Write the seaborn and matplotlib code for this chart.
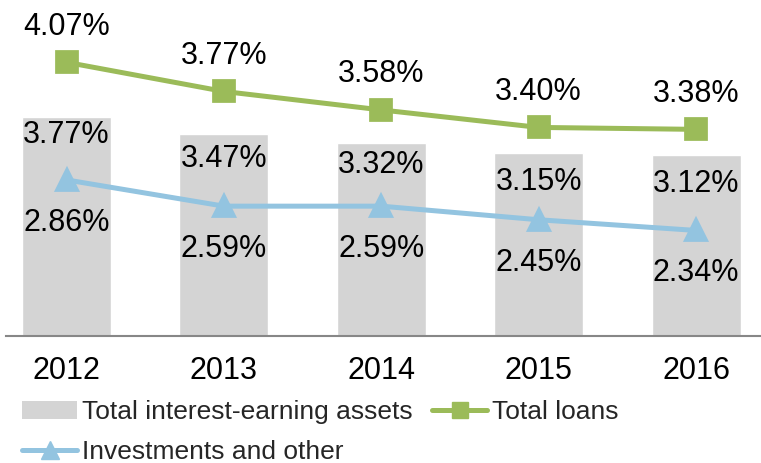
import numpy as np
import pandas as pd
import matplotlib
matplotlib.use("Agg")
import matplotlib.pyplot as plt
from matplotlib.patches import Patch
from matplotlib.lines import Line2D
import seaborn as sns

# --- data ---
years = ["2012", "2013", "2014", "2015", "2016"]
total_assets = [3.77, 3.47, 3.32, 3.15, 3.12]
total_loans = [4.07, 3.77, 3.58, 3.40, 3.38]
investments = [2.86, 2.59, 2.59, 2.45, 2.34]

series_names = ["Total interest-earning assets", "Total loans", "Investments and other"]

# --- styling ---
GREY = "#D4D4D4"
GREEN = "#9BBB59"
BLUE = "#93C4E0"
PX = 72 / 100  # pixels -> points at dpi 100
LABEL_SIZE = 22

sns.set_theme(style="white")
plt.rcParams["font.family"] = ["Liberation Sans", "DejaVu Sans"]

fig = plt.figure(figsize=(7.61, 4.63), dpi=100)
W, H = 761, 463
base_px = 335.5
ax = fig.add_axes([6 / W, 1 - base_px / H, 755 / W, base_px / H])
ax2 = ax.twinx()

sns.barplot(x=years, y=total_assets, color=GREY, saturation=1, width=0.565, ax=ax)

lines_df = pd.DataFrame({
    "year": years * 2,
    "value": total_loans + investments,
    "series": [series_names[1]] * len(years) + [series_names[2]] * len(years),
})
sns.pointplot(data=lines_df, x="year", y="value", hue="series",
              hue_order=[series_names[1], series_names[2]],
              palette=[GREEN, BLUE], markers=["s", "^"], linestyles=["-", "-"],
              markersize=14, linewidth=3.6, errorbar=None, legend=False, ax=ax2)

# scales: primary 58 px per unit from zero, secondary 97.2 px per unit
ax.set_ylim(0, base_px / 58.0)
y2_low = 4.07 - (base_px - 62.3) / 97.2
ax2.set_ylim(y2_low, y2_low + base_px / 97.2)
x_left = -(66.5 - 6) / 157.4
ax.set_xlim(x_left, x_left + 755 / 157.4)

# value labels
txt = dict(ha="center", va="baseline", fontsize=LABEL_SIZE, color="black",
           textcoords="offset points")
bar_offsets_px = [26.3, 32.4, 30.0, 36.7, 37.7]
for i, v in enumerate(total_assets):
    ax.annotate(f"{v:.2f}%", xy=(i, v), xytext=(0, -bar_offsets_px[i] * PX), **txt)
for i, v in enumerate(total_loans):
    ax2.annotate(f"{v:.2f}%", xy=(i, v), xytext=(0, 27.5 * PX), **txt)
for i, v in enumerate(investments):
    ax2.annotate(f"{v:.2f}%", xy=(i, v), xytext=(0, -51 * PX), **txt)

for a in (ax, ax2):
    for s in a.spines.values():
        s.set_visible(False)
    a.set_yticks([])
    a.set_xlabel("")
    a.set_ylabel("")
ax.spines["bottom"].set_visible(True)
ax.spines["bottom"].set_color("#878787")
ax.spines["bottom"].set_linewidth(1.5)
ax.tick_params(axis="x", length=0, pad=15, labelsize=LABEL_SIZE, labelcolor="black")

handles = [
    Patch(facecolor=GREY, edgecolor="none"),
    Line2D([], [], color=BLUE, lw=3.6, marker="^", markersize=13),
    Line2D([], [], color=GREEN, lw=3.6, marker="s", markersize=12),
]
labels = [series_names[0], series_names[2], series_names[1]]
fig.legend(handles, labels, loc="upper left", bbox_to_anchor=(22 / W, 1 - 400 / H),
           ncol=2, frameon=False, fontsize=19, handlelength=2.1, handletextpad=0.16,
           columnspacing=0.75, labelspacing=0.6, borderpad=0, borderaxespad=0)

fig.savefig("out.png", dpi=100)
